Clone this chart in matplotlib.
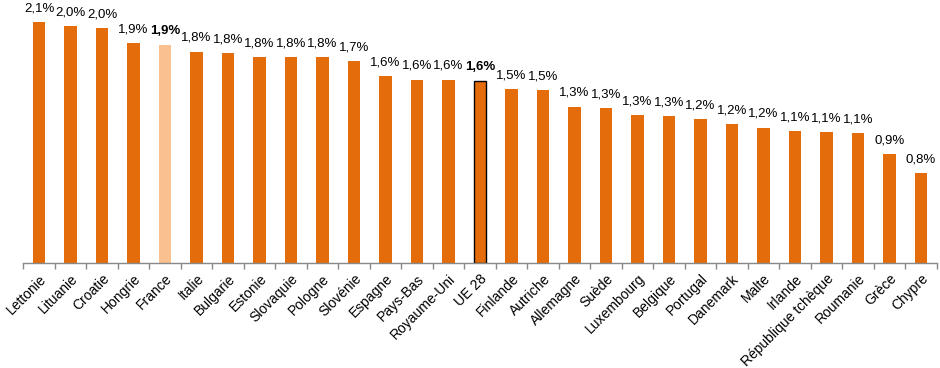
import matplotlib.pyplot as plt
import numpy as np

# Data (share, %)
countries = ["Lettonie", "Lituanie", "Croatie", "Hongrie", "France", "Italie",
             "Bulgarie", "Estonie", "Slovaquie", "Pologne", "Slovénie", "Espagne",
             "Pays-Bas", "Royaume-Uni", "UE 28", "Finlande", "Autriche", "Allemagne",
             "Suède", "Luxembourg", "Belgique", "Portugal", "Danemark", "Malte",
             "Irlande", "République tchèque", "Roumanie", "Grèce", "Chypre"]
values = [2.06, 2.03, 2.01, 1.88, 1.87, 1.81, 1.80, 1.76, 1.76, 1.76, 1.73, 1.60,
          1.57, 1.57, 1.56, 1.49, 1.48, 1.34, 1.33, 1.27, 1.26, 1.23, 1.19, 1.16,
          1.13, 1.12, 1.11, 0.93, 0.77]

plt.rcParams['font.family'] = ['Liberation Sans', 'DejaVu Sans']

orange = '#E46C0A'
light = '#FAC090'
colors = [light if c == "France" else orange for c in countries]

fig = plt.figure(figsize=(9.4, 3.68), dpi=100)
ax = fig.add_axes([23.3 / 940, 1 - 263.3 / 368, 913.4 / 940, 263.3 / 368])

x = np.arange(len(countries))
bars = ax.bar(x, values, width=0.39, color=colors, zorder=2)
ue = countries.index("UE 28")
bars[ue].set_edgecolor('black')
bars[ue].set_linewidth(1.0)

ax.set_xlim(-0.5, len(countries) - 0.5)
ax.set_ylim(0, 263.3 / 117)

for i, v in enumerate(values):
    label = f"{v:.1f}".replace('.', ',') + "%"
    bold = countries[i] in ("France", "UE 28")
    ax.annotate(label, (i, v), xytext=(0, 5.5), textcoords='offset points',
                ha='center', va='bottom', fontsize=9.5,
                fontweight='bold' if bold else 'normal', color='black')

for side in ('top', 'right', 'left'):
    ax.spines[side].set_visible(False)
ax.spines['bottom'].set_color('#898989')
ax.spines['bottom'].set_linewidth(1.0)
ax.set_yticks([])

# ticks between categories, labels centred under bars
ax.set_xticks(np.arange(-0.5, len(countries), 1.0))
ax.set_xticklabels([])
ax.tick_params(axis='x', which='major', length=4, color='#898989', width=1.0)
ax.set_xticks(x, minor=True)
ax.set_xticklabels(countries, minor=True, rotation=45, ha='right',
                   rotation_mode='anchor', fontsize=10)
ax.tick_params(axis='x', which='minor', length=0, pad=6)

fig.savefig("out.png", dpi=100)
